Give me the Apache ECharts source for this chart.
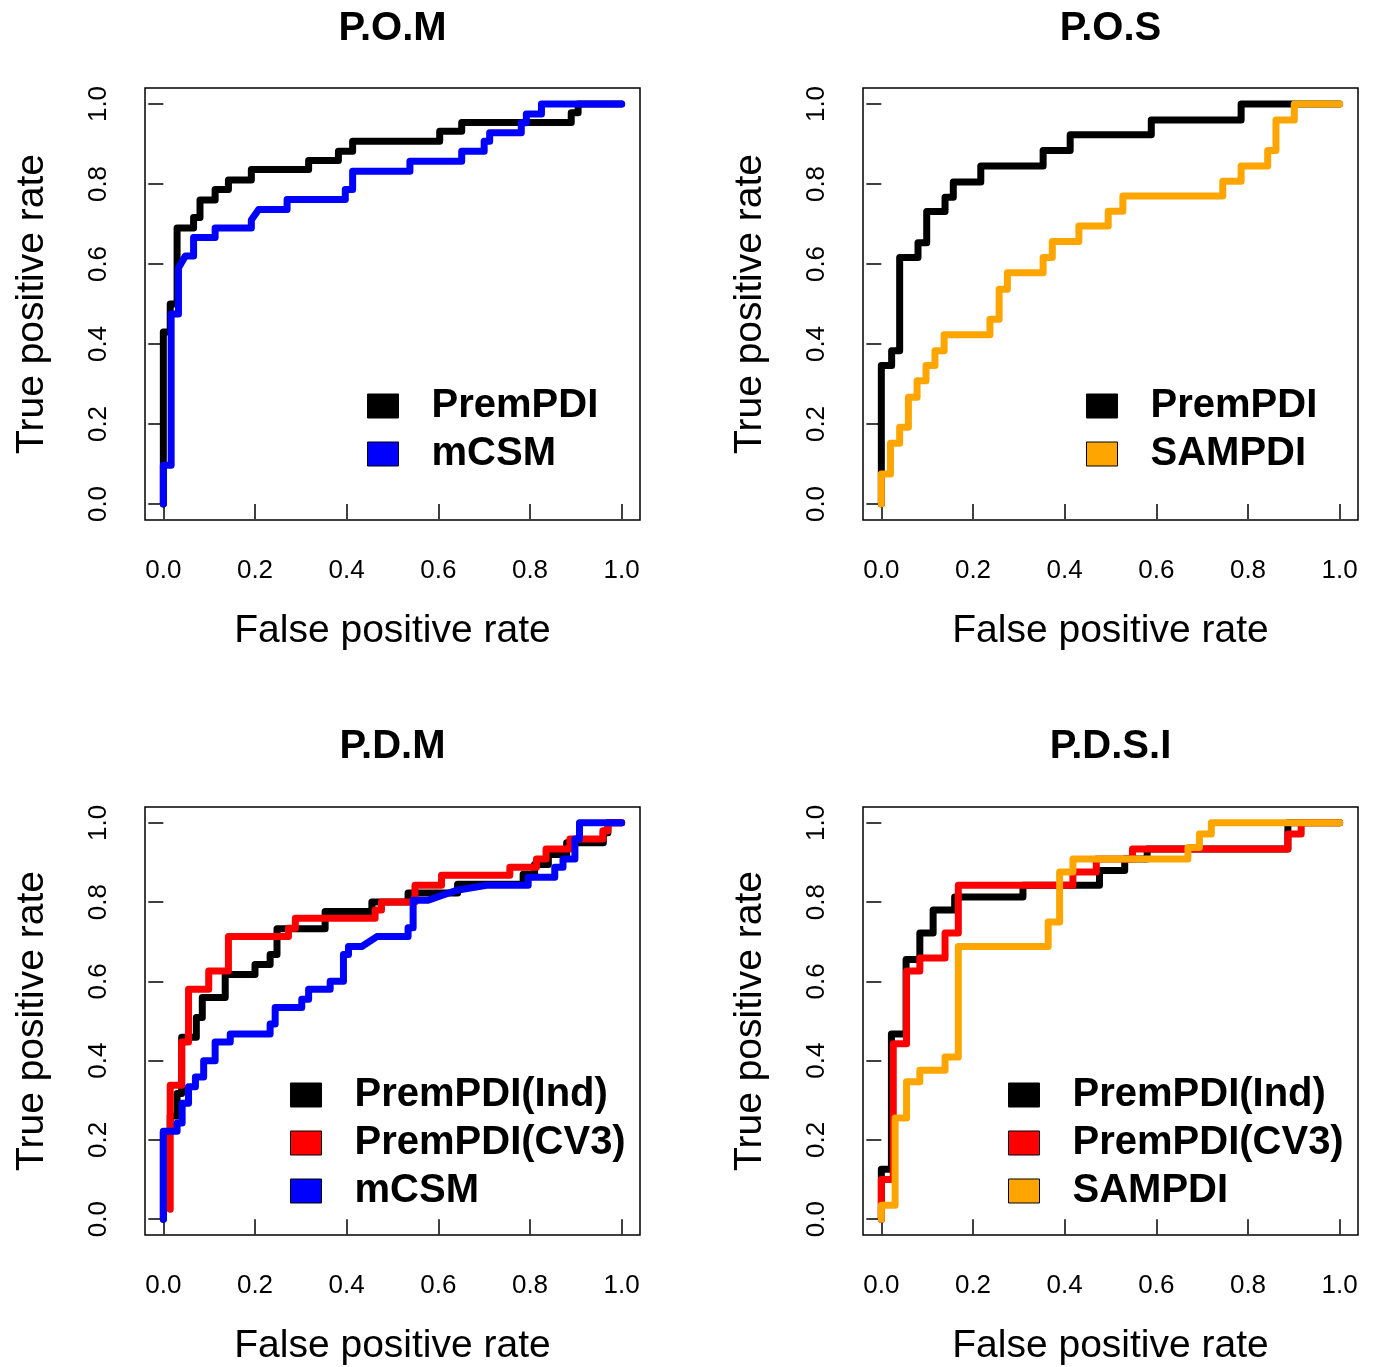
<!DOCTYPE html>
<html>
<head>
<meta charset="utf-8">
<script src="https://cdn.jsdelivr.net/npm/echarts@6/dist/echarts.min.js"></script>
<style>
  html, body { margin: 0; padding: 0; background: #fff; }
  #chart { width: 1376px; height: 1367px; }
</style>
</head>
<body>
<div id="chart"></div>
<script>
// 面板标题
const panelTitles = ["P.O.M", "P.O.S", "P.D.M", "P.D.S.I"];
const tickValues = [0, 0.2, 0.4, 0.6, 0.8, 1.0];

// ROC 曲线 [FPR, TPR]
// P.O.M
const pomPremPDI = [[0,0],[0,0.43],[0.015,0.43],[0.015,0.50],[0.03,0.50],[0.03,0.69],[0.066,0.69],[0.066,0.716],[0.08,0.716],[0.08,0.76],[0.113,0.76],[0.113,0.786],[0.142,0.786],[0.142,0.81],[0.192,0.81],[0.192,0.836],[0.317,0.836],[0.317,0.859],[0.382,0.859],[0.382,0.882],[0.413,0.882],[0.413,0.907],[0.603,0.907],[0.603,0.932],[0.651,0.932],[0.651,0.954],[0.89,0.954],[0.89,0.978],[0.905,0.978],[0.905,1],[1,1]];
const pomMCSM = [[0,0],[0,0.097],[0.017,0.097],[0.017,0.475],[0.033,0.475],[0.033,0.59],[0.048,0.62],[0.066,0.62],[0.066,0.666],[0.113,0.666],[0.113,0.69],[0.192,0.69],[0.192,0.71],[0.208,0.736],[0.27,0.736],[0.27,0.761],[0.397,0.761],[0.397,0.786],[0.413,0.786],[0.413,0.832],[0.538,0.832],[0.538,0.857],[0.651,0.857],[0.651,0.882],[0.70,0.882],[0.70,0.907],[0.712,0.907],[0.712,0.928],[0.781,0.928],[0.781,0.953],[0.792,0.953],[0.792,0.975],[0.825,0.975],[0.825,1],[1,1]];
// P.O.S
const posPremPDI = [[0,0],[0,0.346],[0.0225,0.346],[0.0225,0.383],[0.04,0.383],[0.04,0.616],[0.08,0.616],[0.08,0.653],[0.099,0.653],[0.099,0.731],[0.139,0.731],[0.139,0.767],[0.157,0.767],[0.157,0.805],[0.217,0.805],[0.217,0.845],[0.353,0.845],[0.353,0.884],[0.412,0.884],[0.412,0.923],[0.589,0.923],[0.589,0.96],[0.785,0.96],[0.785,1],[1,1]];
const posSAMPDI = [[0,0],[0,0.075],[0.02,0.075],[0.02,0.152],[0.04,0.152],[0.04,0.192],[0.059,0.192],[0.059,0.267],[0.078,0.267],[0.078,0.308],[0.0975,0.308],[0.0975,0.346],[0.117,0.346],[0.117,0.383],[0.137,0.383],[0.137,0.423],[0.237,0.423],[0.237,0.462],[0.257,0.462],[0.257,0.537],[0.275,0.537],[0.275,0.578],[0.353,0.578],[0.353,0.616],[0.373,0.616],[0.373,0.656],[0.431,0.656],[0.431,0.695],[0.495,0.695],[0.495,0.732],[0.527,0.732],[0.527,0.77],[0.745,0.77],[0.745,0.807],[0.785,0.807],[0.785,0.845],[0.843,0.845],[0.843,0.884],[0.861,0.884],[0.861,0.96],[0.901,0.96],[0.901,1],[1,1]];
// P.D.M
const pdmInd = [[0,0],[0,0.22],[0.015,0.22],[0.015,0.26],[0.03,0.26],[0.03,0.317],[0.04,0.317],[0.04,0.459],[0.072,0.459],[0.072,0.509],[0.085,0.509],[0.085,0.559],[0.135,0.559],[0.135,0.6175],[0.2,0.6175],[0.2,0.6425],[0.233,0.6425],[0.233,0.6675],[0.248,0.6675],[0.248,0.733],[0.353,0.733],[0.353,0.776],[0.455,0.776],[0.455,0.80],[0.534,0.80],[0.534,0.823],[0.642,0.823],[0.642,0.845],[0.785,0.845],[0.785,0.87],[0.81,0.87],[0.81,0.895],[0.84,0.895],[0.84,0.92],[0.88,0.92],[0.88,0.95],[0.96,0.95],[0.96,0.975],[0.97,0.975],[0.97,1],[1,1]];
const pdmCV3 = [[0.015,0.025],[0.015,0.338],[0.04,0.338],[0.04,0.447],[0.055,0.447],[0.055,0.58],[0.099,0.58],[0.099,0.626],[0.142,0.626],[0.142,0.713],[0.273,0.713],[0.273,0.734],[0.288,0.734],[0.288,0.759],[0.462,0.759],[0.462,0.78],[0.476,0.78],[0.476,0.80],[0.549,0.80],[0.549,0.8425],[0.607,0.8425],[0.607,0.8675],[0.756,0.8675],[0.756,0.888],[0.814,0.888],[0.814,0.909],[0.835,0.909],[0.835,0.934],[0.887,0.934],[0.887,0.959],[0.959,0.959],[0.959,0.98],[0.97,0.98],[0.97,1],[1,1]];
const pdmMCSM = [[0,0],[0,0.222],[0.03,0.222],[0.03,0.2425],[0.041,0.2425],[0.041,0.2925],[0.055,0.2925],[0.055,0.334],[0.07,0.334],[0.07,0.359],[0.088,0.359],[0.088,0.40],[0.113,0.40],[0.113,0.447],[0.146,0.447],[0.146,0.4675],[0.233,0.4675],[0.233,0.4925],[0.244,0.4925],[0.244,0.534],[0.302,0.534],[0.302,0.555],[0.317,0.555],[0.317,0.58],[0.364,0.58],[0.364,0.60],[0.393,0.60],[0.393,0.6675],[0.404,0.6675],[0.404,0.688],[0.433,0.688],[0.466,0.713],[0.534,0.713],[0.534,0.735],[0.545,0.735],[0.545,0.805],[0.578,0.805],[0.64,0.83],[0.705,0.8425],[0.796,0.8425],[0.796,0.863],[0.854,0.863],[0.854,0.888],[0.872,0.888],[0.872,0.909],[0.898,0.909],[0.898,0.959],[0.908,0.959],[0.908,1],[1,1]];
// P.D.S.I
const pdsiInd = [[0,0],[0,0.126],[0.022,0.126],[0.022,0.4675],[0.054,0.4675],[0.054,0.655],[0.084,0.655],[0.084,0.722],[0.113,0.722],[0.113,0.78],[0.16,0.78],[0.16,0.813],[0.309,0.813],[0.309,0.8425],[0.476,0.8425],[0.476,0.88],[0.531,0.88],[0.531,0.909],[0.58,0.909],[0.58,0.934],[0.887,0.934],[0.887,1],[1,1]];
const pdsiCV3 = [[0,0],[0,0.10],[0.026,0.10],[0.026,0.4425],[0.055,0.4425],[0.055,0.626],[0.084,0.626],[0.084,0.659],[0.139,0.659],[0.139,0.722],[0.168,0.722],[0.168,0.8425],[0.418,0.8425],[0.418,0.876],[0.469,0.876],[0.469,0.909],[0.548,0.909],[0.548,0.934],[0.887,0.934],[0.887,0.972],[0.916,0.972],[0.916,1],[1,1]];
const pdsiSAMPDI = [[0,0],[0,0.035],[0.03,0.035],[0.03,0.255],[0.055,0.255],[0.055,0.3465],[0.084,0.3465],[0.084,0.376],[0.139,0.376],[0.139,0.409],[0.168,0.409],[0.168,0.688],[0.364,0.688],[0.364,0.75],[0.389,0.75],[0.389,0.876],[0.418,0.876],[0.418,0.909],[0.669,0.909],[0.669,0.938],[0.694,0.938],[0.694,0.972],[0.72,0.972],[0.72,1],[1,1]];

const font = "'Liberation Sans', Arial, sans-serif";
// 面板位置 (plot box)
const boxes = [
  { left: 145, top: 88 },
  { left: 863, top: 88 },
  { left: 145, top: 807 },
  { left: 863, top: 807 },
];
const boxW = 495;
const boxH = 432;

// 每个面板的曲线
const panels = [
  [
    { name: "PremPDI", color: "#000000", data: pomPremPDI },
    { name: "mCSM", color: "#0000ff", data: pomMCSM },
  ],
  [
    { name: "PremPDI", color: "#000000", data: posPremPDI },
    { name: "SAMPDI", color: "#ffa500", data: posSAMPDI },
  ],
  [
    { name: "PremPDI(Ind)", color: "#000000", data: pdmInd },
    { name: "PremPDI(CV3)", color: "#ff0000", data: pdmCV3 },
    { name: "mCSM", color: "#0000ff", data: pdmMCSM },
  ],
  [
    { name: "PremPDI(Ind)", color: "#000000", data: pdsiInd },
    { name: "PremPDI(CV3)", color: "#ff0000", data: pdsiCV3 },
    { name: "SAMPDI", color: "#ffa500", data: pdsiSAMPDI },
  ],
];
// 图例左上角
const legendPos = [
  { left: 362, top: 381 },
  { left: 1081, top: 381 },
  { left: 285, top: 1070 },
  { left: 1003, top: 1070 },
];

const tickFmt = (v) => Number(v).toFixed(1);

const grid = boxes.map((b) => ({
  left: b.left,
  top: b.top,
  width: boxW,
  height: boxH,
  show: true,
  borderColor: "#000",
  borderWidth: 1.5,
  backgroundColor: "transparent",
}));

const axisCommon = {
  type: "value",
  min: -0.04,
  max: 1.04,
  axisLine: { show: false },
  axisTick: {
    show: true,
    inside: false,
    length: 15,
    lineStyle: { color: "#000", width: 1.5 },
    customValues: tickValues,
  },
  splitLine: { show: false },
  nameLocation: "middle",
  nameTextStyle: { fontSize: 39, color: "#000", fontFamily: font },
};

const xAxis = boxes.map((b, i) => ({
  ...axisCommon,
  gridIndex: i,
  name: "False positive rate",
  nameGap: 92,
  axisLabel: {
    customValues: tickValues,
    formatter: tickFmt,
    fontSize: 26,
    color: "#000",
    fontFamily: font,
    margin: 38,
  },
}));

const yAxis = boxes.map((b, i) => ({
  ...axisCommon,
  gridIndex: i,
  name: "True positive rate",
  nameRotate: 90,
  nameGap: 93,
  axisLabel: {
    customValues: tickValues,
    formatter: tickFmt,
    fontSize: 26,
    color: "#000",
    fontFamily: font,
    rotate: 90,
    margin: 33,
  },
}));

const title = boxes.map((b, i) => ({
  text: panelTitles[i],
  left: b.left + boxW / 2 - 5,
  top: 4 + (i >= 2 ? 718 : 0),
  textAlign: "center",
  textStyle: { fontSize: 40, fontWeight: "bold", color: "#000", fontFamily: font },
}));

const legend = panels.map((p, i) => ({
  orient: "vertical",
  left: legendPos[i].left,
  top: legendPos[i].top,
  icon: "rect",
  itemWidth: 31,
  itemHeight: 24,
  itemGap: 8,
  selectedMode: false,
  itemStyle: { borderColor: "#000", borderWidth: 1 },
  textStyle: {
    fontSize: 40,
    fontWeight: "bold",
    color: "#000",
    fontFamily: font,
    lineHeight: 40,
    padding: [0, 0, 0, 28],
  },
  data: p.map((s) => s.name),
}));

const series = [];
panels.forEach((p, i) => {
  p.forEach((s) => {
    series.push({
      name: s.name,
      type: "line",
      xAxisIndex: i,
      yAxisIndex: i,
      data: s.data,
      color: s.color,
      showSymbol: false,
      symbol: "none",
      silent: true,
      clip: false,
      lineStyle: { color: s.color, width: 7, cap: "round", join: "round" },
    });
  });
});

const myChart = echarts.init(document.getElementById("chart"), null, { renderer: "canvas" });
myChart.setOption({
  animation: false,
  backgroundColor: "#fff",
  title,
  legend,
  grid,
  xAxis,
  yAxis,
  series,
});
</script>
</body>
</html>
